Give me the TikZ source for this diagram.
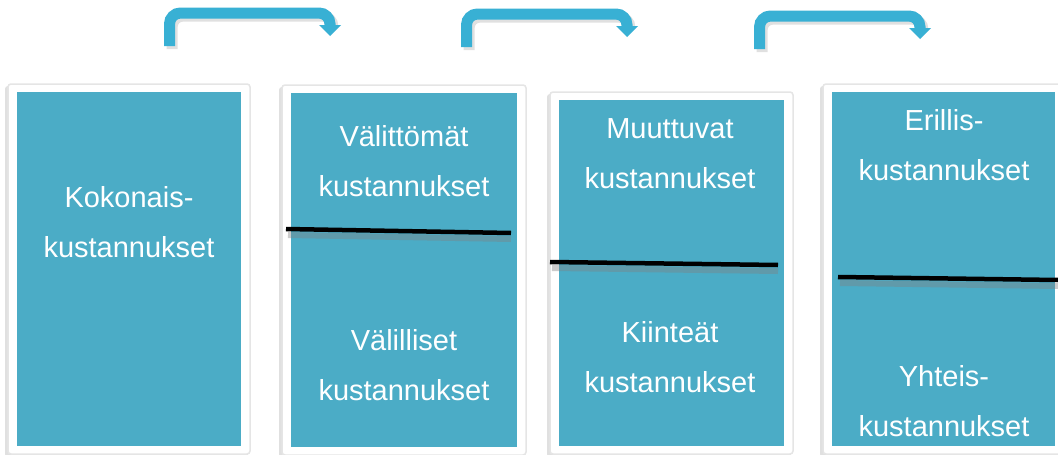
\documentclass[tikz,border=0pt]{standalone}
\usepackage{fontspec}
\setmainfont{Liberation Sans}
\usetikzlibrary{backgrounds}
\definecolor{boxteal}{HTML}{4BACC6}
\definecolor{arrowblue}{HTML}{38B0D4}
\begin{document}
\begin{tikzpicture}[x=1pt,y=-1pt,
  tealbox/.style={fill=boxteal, draw=none, inner sep=0pt, outer sep=0pt},
  framebox/.style={fill=white, draw=black!10, line width=1.5pt, rounded corners=3pt},
  frameshadow/.style={fill=black!12, draw=none, rounded corners=3pt},
  divider/.style={line width=4.5pt, black},
  dividershadow/.style={line width=6pt, black!50, opacity=0.4},
  lbl/.style={text=white, align=center, inner sep=0pt, font=\fontsize{29}{50}\selectfont},
  bendarrow/.style={line width=11pt, arrowblue, rounded corners=11pt},
  bendshadow/.style={line width=11pt, black!40, opacity=0.3, rounded corners=11pt}]
\useasboundingbox (0,0) rectangle (1058,455);

% teal boxes
\node[tealbox, minimum width=224pt, minimum height=354pt] (b1) at (129,269) {};
\node[tealbox, minimum width=226pt, minimum height=354pt] (b2) at (404,270) {};
\node[tealbox, minimum width=225pt, minimum height=346pt] (b3) at (671.5,273) {};
\node[tealbox, minimum width=223pt, minimum height=354pt] (b4) at (943.5,269) {};

% page and frames behind the boxes
\begin{pgfonlayer}{background}
  \fill[white] (0,0) rectangle (1058,455);
  \foreach \b in {b1,b2,b3,b4}{
    \fill[frameshadow] ([shift={(-12,-6)}]\b.north west) rectangle ([shift={(7,11)}]\b.south east);
    \draw[framebox] ([shift={(-9,-8)}]\b.north west) rectangle ([shift={(9,8)}]\b.south east);
  }
\end{pgfonlayer}

% dividers
\draw[dividershadow] (288,235) -- (511,239);
\draw[divider] (286,229) -- (511,233);
\draw[dividershadow] (552,268) -- (778,271);
\draw[divider] (550,262) -- (778,265);
\draw[dividershadow] (840,283) -- (1058,286);
\draw[divider] (838,277) -- (1058,280);

% labels
\node[lbl] (t1) at (b1.center |- 0,222) {Kokonais-\\kustannukset};
\node[lbl] (t2a) at (b2.center |- 0,161.5) {Välittömät\\kustannukset};
\node[lbl] (t2b) at (b2.center |- 0,365) {Välilliset\\kustannukset};
\node[lbl] (t3a) at (670,153.5) {Muuttuvat\\kustannukset};
\node[lbl] (t3b) at (670,357.5) {Kiinteät\\kustannukset};
\node[lbl] (t4a) at (944,145) {Erillis-\\kustannukset};
\node[lbl] (t4b) at (944,401) {Yhteis-\\kustannukset};

% bent arrows
\foreach \dx/\dy in {0/0, 297/1, 590/3}{
  \begin{scope}[shift={(\dx,\dy)}]
    \draw[bendshadow] (172,49) |- (333,16) -- (333,27);
    \draw[bendarrow] (169.5,46) |- (330,13) -- (330,26);
    \fill[arrowblue] (319,25) -- (341,25) -- (330,36) -- cycle;
  \end{scope}
}
\end{tikzpicture}
\end{document}
